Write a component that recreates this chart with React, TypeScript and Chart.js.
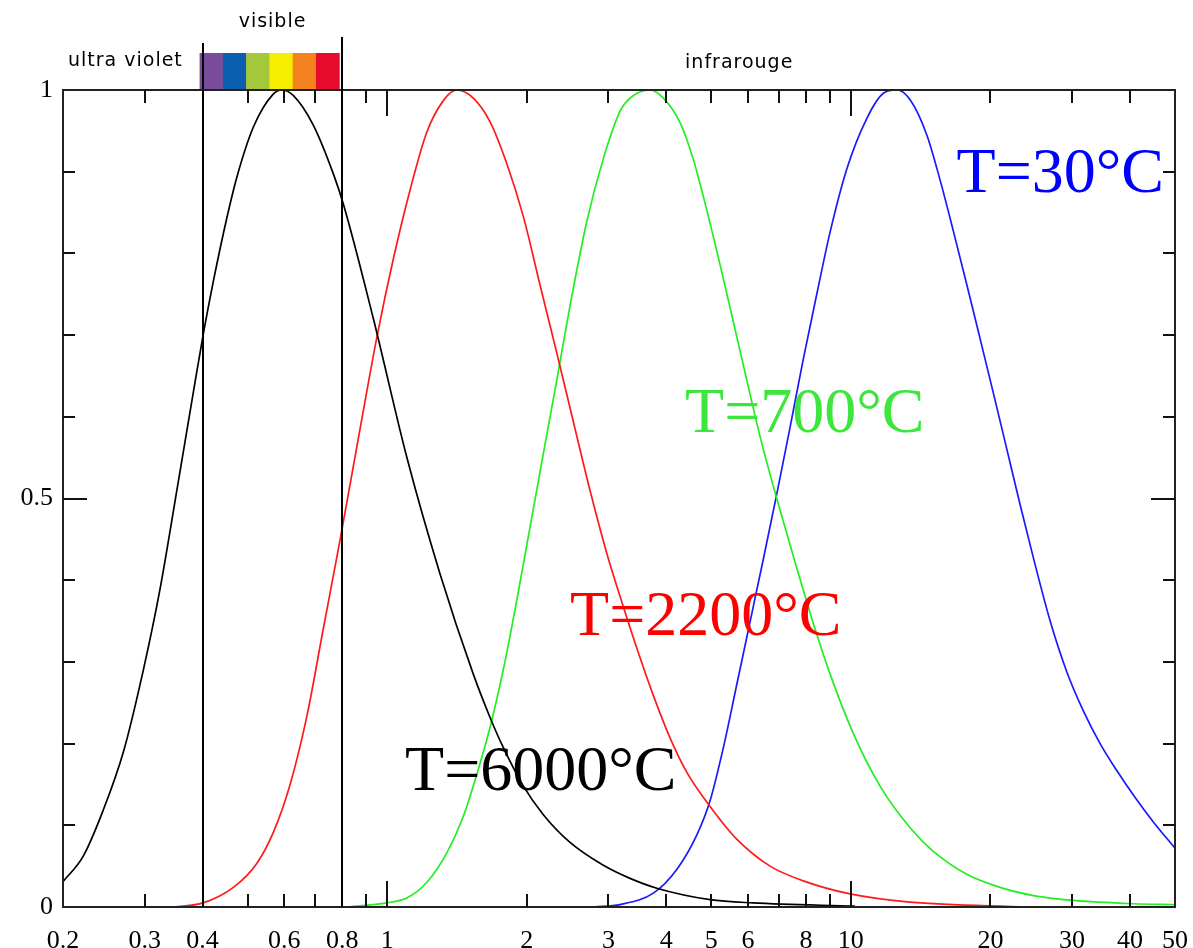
import React, { useEffect, useRef } from 'react';
import { Chart, registerables } from 'chart.js';

Chart.register(...registerables);

// ---- Data (wavelength in µm, normalised intensity) ----
const t6000X = [0.2, 0.221, 0.244, 0.27, 0.298, 0.324, 0.352, 0.382, 0.401, 0.422, 0.451, 0.474, 0.515, 0.568, 0.593, 0.628, 0.693, 0.766, 0.804, 0.934, 1.102, 1.3, 1.534, 1.667, 1.781, 1.967, 2.172, 2.48, 2.926, 3.34, 3.815, 4.97, 6.15, 10.2];
const t6000Y = [0.031, 0.062, 0.118, 0.19, 0.29, 0.39, 0.51, 0.63, 0.7, 0.766, 0.843, 0.893, 0.955, 0.995, 1.0, 0.993, 0.957, 0.897, 0.861, 0.72, 0.551, 0.408, 0.285, 0.232, 0.195, 0.148, 0.113, 0.079, 0.051, 0.035, 0.023, 0.009, 0.005, 0.001];

const t2200X = [0.346, 0.401, 0.466, 0.523, 0.568, 0.617, 0.671, 0.728, 0.792, 0.874, 0.95, 1.032, 1.12, 1.217, 1.322, 1.413, 1.534, 1.667, 1.811, 1.967, 2.137, 2.322, 2.521, 2.738, 2.976, 3.179, 3.454, 3.75, 4.074, 4.426, 4.97, 5.674, 6.694, 7.898, 9.96, 13.42, 24.1];
const t2200Y = [0, 0.005, 0.024, 0.053, 0.091, 0.149, 0.233, 0.34, 0.45, 0.585, 0.697, 0.794, 0.877, 0.948, 0.987, 1.0, 0.99, 0.961, 0.91, 0.845, 0.761, 0.678, 0.594, 0.51, 0.433, 0.38, 0.317, 0.259, 0.207, 0.165, 0.123, 0.083, 0.05, 0.032, 0.016, 0.006, 0];

const t700X = [0.815, 0.998, 1.102, 1.217, 1.344, 1.46, 1.56, 1.667, 1.781, 1.903, 2.033, 2.172, 2.322, 2.48, 2.695, 2.926, 3.179, 3.34, 3.69, 3.942, 4.282, 4.574, 4.89, 5.224, 5.58, 5.964, 6.37, 6.804, 7.035, 7.644, 8.3, 9.02, 10.13, 11.56, 13.42, 15.06, 17.78, 20.98, 24.76, 30.14, 40.6, 50];
const t700Y = [0, 0.005, 0.011, 0.03, 0.066, 0.111, 0.162, 0.22, 0.291, 0.375, 0.465, 0.555, 0.645, 0.736, 0.839, 0.916, 0.974, 0.99, 1.0, 0.99, 0.96, 0.915, 0.853, 0.786, 0.716, 0.645, 0.576, 0.515, 0.486, 0.415, 0.347, 0.285, 0.212, 0.148, 0.097, 0.068, 0.04, 0.024, 0.014, 0.008, 0.004, 0.003];

const t30X = [2.79, 3.179, 3.75, 4.213, 4.652, 4.97, 5.309, 5.674, 6.062, 6.476, 6.92, 7.394, 7.898, 8.442, 9.02, 9.796, 10.82, 11.75, 12.56, 13.42, 14.58, 15.57, 16.64, 17.78, 18.99, 20.29, 21.68, 23.16, 24.76, 26.9, 29.21, 31.72, 34.47, 37.45, 40.66, 44.9, 50];
const t30Y = [0, 0.003, 0.017, 0.046, 0.088, 0.13, 0.195, 0.272, 0.349, 0.426, 0.505, 0.587, 0.671, 0.75, 0.826, 0.903, 0.965, 0.996, 1.0, 0.988, 0.945, 0.89, 0.827, 0.762, 0.696, 0.629, 0.561, 0.493, 0.427, 0.35, 0.288, 0.24, 0.2, 0.167, 0.137, 0.104, 0.072];

// ---- Ticks ----
const xTickValues = [0.2, 0.3, 0.4, 0.5, 0.6, 0.7, 0.8, 0.9, 1, 2, 3, 4, 5, 6, 7, 8, 9, 10, 20, 30, 40, 50];
const xTickLabels = ['0.2', '0.3', '0.4', '', '0.6', '', '0.8', '', '1', '2', '3', '4', '5', '6', '', '8', '', '10', '20', '30', '40', '50'];
const xMajorTicks = [1, 10];
const yTickValues = [0, 0.1, 0.2, 0.3, 0.4, 0.5, 0.6, 0.7, 0.8, 0.9, 1];
const yTickLabels = ['0', '', '', '', '', '0.5', '', '', '', '', '1'];
const yMajorTicks = [0.5];

// ---- Spectrum / annotations ----
const visibleRange = [0.4, 0.8];
const spectrumColors = ['#7b4c9c', '#0b5fae', '#a5c83a', '#f6ee00', '#f4821f', '#e60b2c'];
const seriesNames = ['T=6000°C', 'T=2200°C', 'T=700°C', 'T=30°C'];
const seriesColors = ['#000000', '#ff1a1a', '#22ee22', '#1a1aff'];
const labelColors = ['#000000', '#ff0000', '#3ce63c', '#0000ff'];
const labelAnchorX = [1.093, 2.48, 4.39, 16.9];
const labelAnchorY = [0.143, 0.333, 0.581, 0.875];
const regionNames = ['ultra violet', 'visible', 'infrarouge'];

const makeData = (xs: number[], ys: number[]) => xs.map((x, i) => ({ x, y: ys[i] }));

const decorPlugin = {
  id: 'decor',
  beforeDatasetsDraw(chart: any) {
    const { ctx, chartArea, scales } = chart;
    const xs = scales.x;
    const x0 = xs.getPixelForValue(visibleRange[0]);
    const x1 = xs.getPixelForValue(visibleRange[1]);
    const w = (x1 - x0) / spectrumColors.length;
    ctx.save();
    spectrumColors.forEach((c, i) => {
      ctx.fillStyle = c;
      ctx.fillRect(x0 - 3 + i * w, chartArea.top - 37, w + 0.5, 37);
    });
    ctx.restore();
  },
  afterDatasetsDraw(chart: any) {
    const { ctx, chartArea, scales } = chart;
    const xs = scales.x;
    const ys = scales.y;
    const { left, right, top, bottom } = chartArea;
    ctx.save();
    // frame
    ctx.strokeStyle = '#222';
    ctx.lineWidth = 2;
    ctx.strokeRect(left, top, right - left, bottom - top);
    // x ticks (inward, top & bottom)
    ctx.strokeStyle = '#111';
    ctx.lineWidth = 2;
    xTickValues.forEach((v) => {
      if (v === xTickValues[0] || v === xTickValues[xTickValues.length - 1]) return;
      const px = Math.round(xs.getPixelForValue(v));
      const len = xMajorTicks.includes(v) ? 26 : 13;
      ctx.beginPath();
      ctx.moveTo(px, bottom);
      ctx.lineTo(px, bottom - len);
      ctx.moveTo(px, top);
      ctx.lineTo(px, top + len);
      ctx.stroke();
    });
    // y ticks (inward, left & right)
    yTickValues.forEach((v) => {
      if (v === 0 || v === 1) return;
      const py = Math.round(ys.getPixelForValue(v));
      const len = yMajorTicks.includes(v) ? 24 : 12;
      ctx.beginPath();
      ctx.moveTo(left, py);
      ctx.lineTo(left + len, py);
      ctx.moveTo(right, py);
      ctx.lineTo(right - len, py);
      ctx.stroke();
    });
    // visible band boundaries
    ctx.strokeStyle = '#000';
    ctx.lineWidth = 2;
    const lx0 = Math.round(xs.getPixelForValue(visibleRange[0]));
    const lx1 = Math.round(xs.getPixelForValue(visibleRange[1]));
    ctx.beginPath();
    ctx.moveTo(lx0, bottom);
    ctx.lineTo(lx0, top - 47);
    ctx.moveTo(lx1, bottom);
    ctx.lineTo(lx1, top - 53);
    ctx.stroke();

    // region labels
    ctx.fillStyle = '#000';
    ctx.font = '19px "DejaVu Sans"';
    try { (ctx as any).letterSpacing = '1px'; } catch (e) {}
    ctx.textBaseline = 'alphabetic';
    ctx.textAlign = 'left';
    ctx.fillText(regionNames[0], xs.getPixelForValue(0.205), top - 24);
    ctx.textAlign = 'center';
    ctx.fillText(regionNames[1], (lx0 + lx1) / 2, top - 63);
    ctx.textAlign = 'left';
    ctx.fillText(regionNames[2], xs.getPixelForValue(4.39), top - 22);
    try { (ctx as any).letterSpacing = '0px'; } catch (e) {}

    // curve labels
    ctx.font = '64px "Liberation Serif"';
    ctx.textAlign = 'left';
    seriesNames.forEach((name, i) => {
      ctx.fillStyle = labelColors[i];
      ctx.fillText(name, xs.getPixelForValue(labelAnchorX[i]), ys.getPixelForValue(labelAnchorY[i]));
    });
    ctx.restore();
  },
};

export default function App() {
  const ref = useRef<HTMLCanvasElement>(null);
  useEffect(() => {
    if (!ref.current) return;
    const series = [
      makeData(t6000X, t6000Y),
      makeData(t2200X, t2200Y),
      makeData(t700X, t700Y),
      makeData(t30X, t30Y),
    ];
    const chart = new Chart(ref.current, {
      type: 'line',
      data: {
        datasets: series.map((d, i) => ({
          label: seriesNames[i],
          data: d,
          borderColor: seriesColors[i],
          backgroundColor: seriesColors[i],
          borderWidth: 1.7,
          pointRadius: 0,
          fill: false,
          cubicInterpolationMode: 'monotone' as const,
        })),
      },
      options: {
        responsive: false,
        animation: false,
        devicePixelRatio: 1,
        layout: { padding: { left: 0, right: 18, top: 90, bottom: 0 } },
        plugins: { legend: { display: false }, tooltip: { enabled: false } },
        scales: {
          x: {
            type: 'logarithmic',
            min: 0.2,
            max: 50,
            grid: { display: false, drawTicks: false },
            border: { display: false },
            afterBuildTicks: (s: any) => {
              s.ticks = xTickValues.map((v) => ({ value: v }));
            },
            afterFit: (s: any) => {
              s.height = 41;
              s.paddingLeft = 0;
              s.paddingRight = 0;
            },
            ticks: {
              autoSkip: false,
              maxRotation: 0,
              minRotation: 0,
              padding: 19,
              color: '#000',
              font: { family: 'Liberation Serif', size: 26 },
              callback: (_v: any, i: number) => xTickLabels[i],
            },
          },
          y: {
            type: 'linear',
            min: 0,
            max: 1,
            grid: { display: false, drawTicks: false },
            border: { display: false },
            afterBuildTicks: (s: any) => {
              s.ticks = yTickValues.map((v) => ({ value: v }));
            },
            afterFit: (s: any) => {
              s.width = 63;
              s.paddingTop = 0;
              s.paddingBottom = 0;
            },
            ticks: {
              padding: 10,
              color: '#000',
              font: { family: 'Liberation Serif', size: 26 },
              callback: (_v: any, i: number) => yTickLabels[i],
            },
          },
        },
      },
      plugins: [decorPlugin],
    } as any);
    return () => chart.destroy();
  }, []);
  return (
    <div style={{ position: 'absolute', left: 0, top: 0, width: 1193, height: 948, background: '#fff' }}>
      <canvas ref={ref} width={1193} height={948} style={{ display: 'block', width: 1193, height: 948 }} />
    </div>
  );
}
